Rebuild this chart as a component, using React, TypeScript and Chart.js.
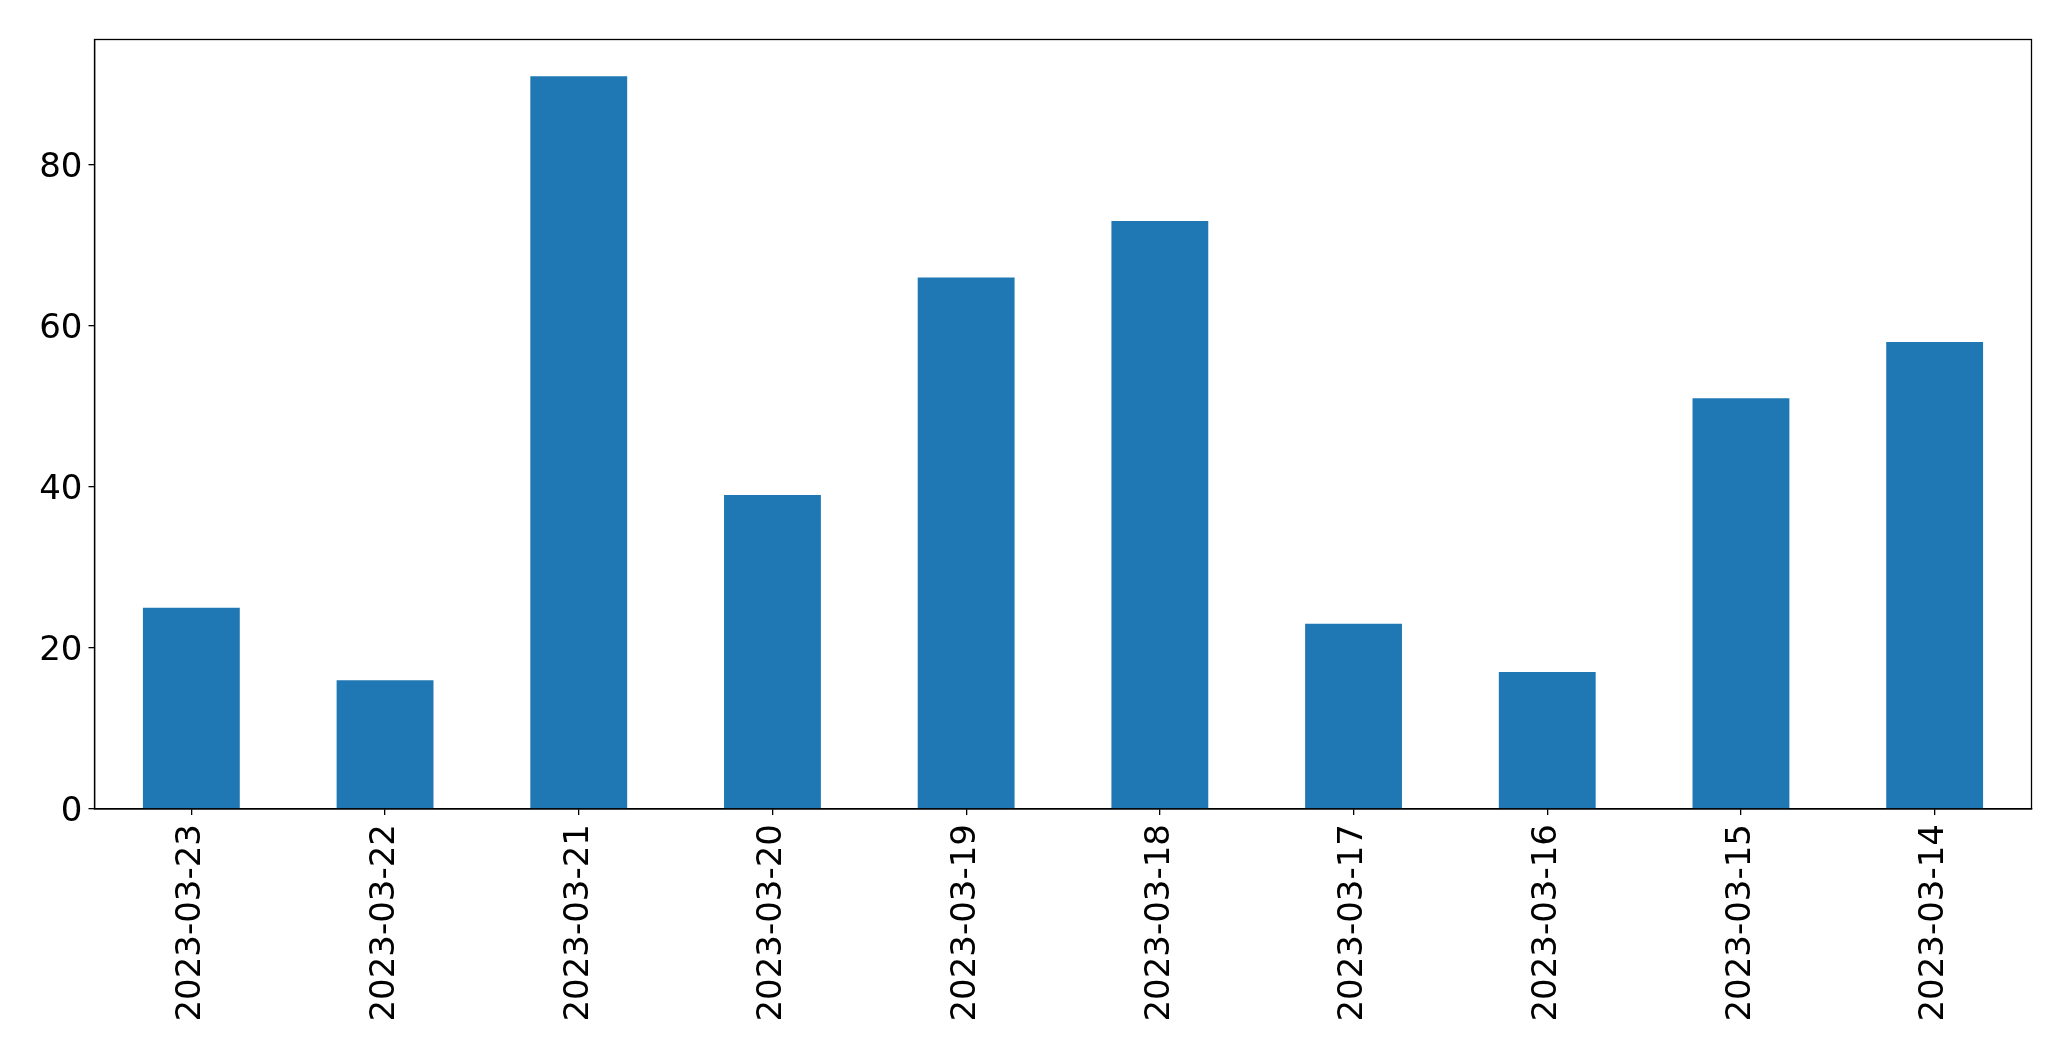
import React, { useEffect, useRef } from "react";
import { Chart, registerables } from "chart.js";

Chart.register(...registerables);

const categories = [
  "2023-03-23",
  "2023-03-22",
  "2023-03-21",
  "2023-03-20",
  "2023-03-19",
  "2023-03-18",
  "2023-03-17",
  "2023-03-16",
  "2023-03-15",
  "2023-03-14",
];
const values = [25, 16, 91, 39, 66, 73, 23, 17, 51, 58];
const yTicks = [0, 20, 40, 60, 80];
const yMax = 95.55;

const FONT = "'DejaVu Sans', sans-serif";

const framePlugin = {
  id: "frame",
  afterDraw(chart: any) {
    const { ctx, chartArea } = chart;
    ctx.save();
    ctx.strokeStyle = "#000";
    ctx.lineWidth = 1.3;
    ctx.strokeRect(
      chartArea.left,
      chartArea.top,
      chartArea.right - chartArea.left,
      chartArea.bottom - chartArea.top
    );
    ctx.restore();
  },
};

export default function App() {
  const ref = useRef<HTMLCanvasElement | null>(null);

  useEffect(() => {
    document.body.style.margin = "0";
    const canvas = ref.current;
    if (!canvas) return;
    const chart = new Chart(canvas, {
      type: "bar",
      data: {
        labels: categories,
        datasets: [
          {
            data: values,
            backgroundColor: "#1f77b4",
            borderWidth: 0,
            categoryPercentage: 1,
            barPercentage: 0.5,
          },
        ],
      },
      options: {
        animation: false,
        responsive: false,
        maintainAspectRatio: false,
        layout: { padding: { left: 0, right: 39.5, top: 39.5, bottom: 0 } },
        plugins: {
          legend: { display: false },
          tooltip: { enabled: false },
        },
        scales: {
          x: {
            offset: true,
            grid: {
              display: true,
              offset: false,
              drawOnChartArea: false,
              drawTicks: true,
              tickLength: 6,
              color: "#000",
              lineWidth: 1.3,
            },
            border: { display: true, color: "#000", width: 1.3 },
            ticks: {
              color: "#000",
              font: { family: FONT, size: 34 },
              minRotation: 90,
              maxRotation: 90,
              autoSkip: false,
              padding: 9,
            },
            afterFit(scale: any) {
              scale.height = 252;
            },
          },
          y: {
            min: 0,
            max: yMax,
            afterBuildTicks(scale: any) {
              scale.ticks = yTicks.map((v) => ({ value: v }));
            },
            grid: {
              display: true,
              drawOnChartArea: false,
              drawTicks: true,
              tickLength: 6,
              color: "#000",
              lineWidth: 1.3,
            },
            border: { display: true, color: "#000", width: 1.3 },
            ticks: {
              color: "#000",
              font: { family: FONT, size: 34 },
              padding: 6,
              labelOffset: 3,
            },
            afterFit(scale: any) {
              scale.width = 94.5;
            },
          },
        },
      },
      plugins: [framePlugin],
    });
    return () => chart.destroy();
  }, []);

  return (
    <div style={{ width: 2071, height: 1061, background: "#fff" }}>
      <canvas ref={ref} width={2071} height={1061} style={{ display: "block" }} />
    </div>
  );
}
